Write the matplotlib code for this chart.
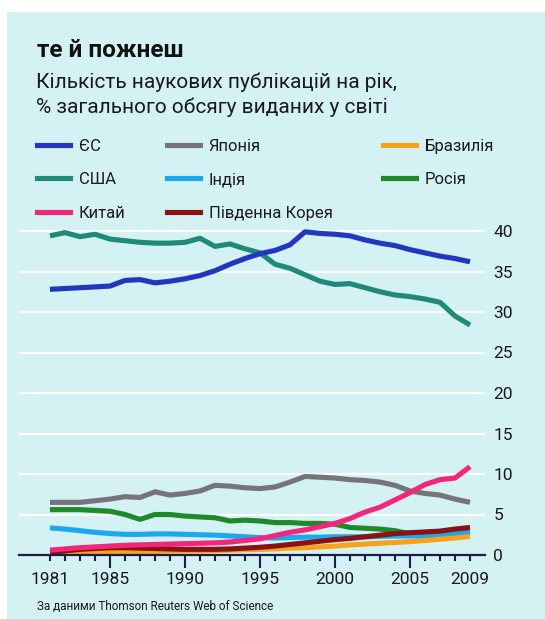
import matplotlib
matplotlib.use("Agg")
import matplotlib.pyplot as plt
from matplotlib.lines import Line2D
from matplotlib.patches import Rectangle

plt.rcParams['font.family'] = ['Roboto', 'DejaVu Sans']

years = list(range(1981, 2010))

eu = [32.8, 32.9, 33.0, 33.1, 33.2, 33.9, 34.0, 33.6, 33.8, 34.1, 34.5, 35.1, 35.9, 36.6, 37.2,
      37.6, 38.3, 39.9, 39.7, 39.6, 39.4, 38.9, 38.5, 38.2, 37.7, 37.3, 36.9, 36.6, 36.2]
usa = [39.4, 39.8, 39.3, 39.6, 39.0, 38.8, 38.6, 38.5, 38.5, 38.6, 39.1, 38.1, 38.4, 37.8, 37.3,
       35.9, 35.4, 34.6, 33.8, 33.4, 33.5, 33.0, 32.5, 32.1, 31.9, 31.6, 31.2, 29.5, 28.4]
japan = [6.5, 6.5, 6.5, 6.7, 6.9, 7.2, 7.1, 7.8, 7.4, 7.6, 7.9, 8.6, 8.5, 8.3, 8.2,
         8.4, 9.0, 9.7, 9.6, 9.5, 9.3, 9.2, 9.0, 8.6, 7.9, 7.6, 7.4, 6.9, 6.5]
russia = [5.6, 5.6, 5.6, 5.5, 5.4, 5.0, 4.4, 5.0, 5.0, 4.8, 4.7, 4.6, 4.2, 4.3, 4.2,
          4.0, 4.0, 3.9, 3.9, 3.8, 3.4, 3.3, 3.2, 3.0, 2.6, 2.1, 2.3, 2.6, 2.75]
india = [3.35, 3.2, 3.0, 2.8, 2.65, 2.55, 2.55, 2.6, 2.6, 2.55, 2.5, 2.45, 2.35, 2.25, 2.15,
         2.1, 2.15, 2.2, 2.2, 2.25, 2.25, 2.25, 2.3, 2.35, 2.35, 2.4, 2.55, 2.7, 2.9]
brazil = [0.35, 0.4, 0.4, 0.45, 0.45, 0.45, 0.45, 0.45, 0.5, 0.5, 0.5, 0.55, 0.6, 0.65, 0.7,
          0.75, 0.85, 0.9, 1.0, 1.1, 1.25, 1.35, 1.45, 1.55, 1.65, 1.8, 1.95, 2.1, 2.3]
korea = [0.3, 0.5, 0.7, 0.8, 0.9, 0.9, 0.85, 0.8, 0.75, 0.7, 0.7, 0.7, 0.75, 0.85, 0.95,
         1.1, 1.3, 1.5, 1.7, 1.9, 2.05, 2.25, 2.45, 2.65, 2.75, 2.85, 2.95, 3.2, 3.4]
china = [0.6, 0.75, 0.9, 1.0, 1.1, 1.2, 1.25, 1.3, 1.35, 1.4, 1.45, 1.5, 1.6, 1.8, 2.0,
         2.4, 2.8, 3.1, 3.5, 3.9, 4.5, 5.3, 5.9, 6.8, 7.7, 8.7, 9.3, 9.5, 10.9]

labels = ['ЄС', 'США', 'Китай', 'Японія', 'Індія', 'Південна Корея', 'Бразилія', 'Росія']
colors = {'ЄС': '#2236c0', 'США': '#1f8a78', 'Китай': '#f2267a', 'Японія': '#77737b',
          'Індія': '#1da7ee', 'Південна Корея': '#8a1212', 'Бразилія': '#f6a21e', 'Росія': '#1f8a2a'}
series = {'ЄС': eu, 'США': usa, 'Китай': china, 'Японія': japan, 'Індія': india,
          'Південна Корея': korea, 'Бразилія': brazil, 'Росія': russia}
draw_order = ['США', 'ЄС', 'Японія', 'Росія', 'Індія', 'Бразилія', 'Південна Корея', 'Китай']

yticks = [0, 5, 10, 15, 20, 25, 30, 35, 40]
xlabels = [1981, 1985, 1990, 1995, 2000, 2005, 2009]
major = [1985, 1990, 1995, 2000, 2005]

W, H = 545, 619
fig = plt.figure(figsize=(W / 100, H / 100), dpi=100)
fig.patch.set_facecolor('white')
bg = '#d4f1f3'
fig.patches.append(Rectangle((7 / W, 0), 1 - 7 / W, 1 - 12 / H, transform=fig.transFigure,
                             facecolor=bg, edgecolor='none', zorder=-10))

def fx(px):
    return px / W

def fy(py):
    return 1 - py / H

# axes: x 19..485 px, y 0 at 555 px, 8.1 px/unit
ax = fig.add_axes([fx(19), fy(555), (485 - 19) / W, (41 * 8.1) / H])
ax.set_facecolor('none')
ax.set_xlim(1981 - 31 / 15, 1981 + 435 / 15)
ax.set_ylim(0, 41)

for y in yticks[1:]:
    ax.axhline(y, color='white', lw=1.6, zorder=0.5)

for name in draw_order:
    ax.plot(years, series[name], color=colors[name], lw=3.7,
            solid_capstyle='butt', solid_joinstyle='round', zorder=2)

for s in ['top', 'left', 'right']:
    ax.spines[s].set_visible(False)
ax.spines['bottom'].set_color('#1b1d45')
ax.spines['bottom'].set_linewidth(1.6)
ax.spines['bottom'].set_zorder(3)

ax.yaxis.tick_right()
ax.set_yticks(yticks)
ax.set_yticklabels([str(v) for v in yticks])
ax.tick_params(axis='y', length=0, pad=6, labelsize=12.5, labelcolor='#1a1a1a')

ax.set_xticks(major)
ax.set_xticks([y for y in years if y not in major], minor=True)
ax.set_xticklabels([])
ax.tick_params(axis='x', which='major', direction='out', length=9.5, width=1.5, color='#1b1d45')
ax.tick_params(axis='x', which='minor', direction='out', length=4.5, width=1.5, color='#1b1d45')
for xl in xlabels:
    ax.annotate(str(xl), xy=(xl, 0), xycoords=('data', 'axes fraction'),
                xytext=(0, -18), textcoords='offset points', ha='center', va='center',
                fontsize=12.5, color='#1a1a1a')

# title and subtitle
fig.text(fx(37), fy(57), 'те й пожнеш', fontsize=17.5, fontweight='bold', color='#111111',
         va='baseline', ha='left')
fig.text(fx(36), fy(88), 'Кількість наукових публікацій на рік,', fontsize=15, color='#1a1a1a',
         va='baseline', ha='left')
fig.text(fx(36), fy(113), '% загального обсягу виданих у світі', fontsize=15, color='#1a1a1a',
         va='baseline', ha='left')

# legends, three columns
cols = [(['ЄС', 'США', 'Китай'], 37), (['Японія', 'Індія', 'Південна Корея'], 167),
        (['Бразилія', 'Росія'], 383)]
for names, x0 in cols:
    handles = [Line2D([0], [0], color=colors[n], lw=3.7) for n in names]
    leg = fig.legend(handles, names, loc='upper left', bbox_to_anchor=(fx(x0), fy(139)),
                     frameon=False, fontsize=12, handlelength=2.0, handletextpad=0.5,
                     labelspacing=1.1, borderpad=0, borderaxespad=0)
    for t in leg.get_texts():
        t.set_color('#1a1a1a')

fig.text(fx(37), fy(607), 'За даними Thomson Reuters Web of Science', fontsize=8.5,
         color='#1a1a1a', va='center', ha='left')

fig.savefig('out.png', dpi=100, facecolor=fig.get_facecolor())
